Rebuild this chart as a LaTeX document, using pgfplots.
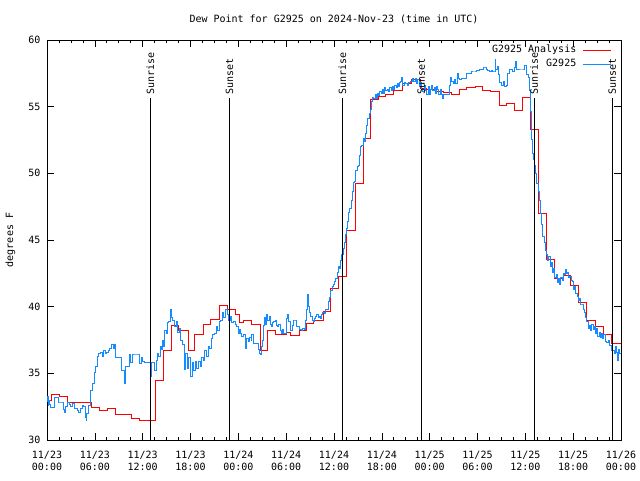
\documentclass[border=0pt]{standalone}
\usepackage{pgfplots}
\pgfplotsset{compat=1.18}
\usepackage{fontspec}
\setmainfont{DejaVu Sans Mono}
\definecolor{obsblue}{RGB}{20,140,255}
\begin{document}
\fontsize{10bp}{12bp}\selectfont
\begin{tikzpicture}
\begin{axis}[
  scale only axis, width=574bp, height=400bp,
  xmin=0, xmax=72, ymin=30, ymax=60,
  axis line style={line width=0.8bp},
  /pgf/number format/assume math mode=true,
  xtick={0,6,...,72},
  xticklabels={{11/23\\00:00},{11/23\\06:00},{11/23\\12:00},{11/23\\18:00},{11/24\\00:00},{11/24\\06:00},{11/24\\12:00},{11/24\\18:00},{11/25\\00:00},{11/25\\06:00},{11/25\\12:00},{11/25\\18:00},{11/26\\00:00}},
  minor x tick num=3,
  ytick={30,35,...,60},
  major tick length=7bp, minor tick length=3.5bp,
  tick style={black, line width=0.6bp},
  xticklabel style={align=center, yshift=-8bp, font=\fontsize{10bp}{12bp}\selectfont},
  yticklabel style={xshift=-3bp, font=\fontsize{10bp}{12bp}\selectfont},
  title={Dew Point for G2925 on 2024-Nov-23 (time in UTC)},
  title style={at={(axis description cs:0.5,1)}, anchor=base, yshift=11.5bp, font=\fontsize{10bp}{12bp}\selectfont},
  ylabel={degrees F},
  every axis y label/.style={at={(axis description cs:-0.059,0.5)}, rotate=90, anchor=base, font=\fontsize{10bp}{12bp}\selectfont},
  legend plot pos=right,
  legend cell align=right,
  legend style={at={(axis description cs:1,1)}, anchor=north east, xshift=-8bp, yshift=-2.5bp, draw=none, fill=none, inner sep=1bp, row sep=0pt, column sep=5bp, font=\fontsize{10bp}{12bp}\selectfont, nodes={inner sep=1.5bp, text height=7.5bp, text depth=3.5bp}},
  legend image code/.code={\draw[#1] (0bp,0bp) -- (28bp,0bp);},
]
\addplot[const plot, red, line width=1bp] coordinates {
(0,33.0) (0.55,33.43) (1.6,33.3) (2.6,32.8) (5.6,32.43) (6.6,32.18) (7.6,32.38) (8.6,31.93) (9.6,31.88) (10.6,31.58) (11.6,31.43) (12.6,31.5)
(13.55,34.43) (14.6,36.73) (15.64,38.58) (16.47,38.18) (17.73,36.73) (18.56,37.93) (19.6,38.63) (20.57,39.05) (21.58,40.1) (22.66,39.8) (23.7,39.45)
(24.1,38.85) (24.71,38.93) (25.59,38.63) (26.72,36.75) (27.64,38.18) (28.68,37.93) (30.06,38.05) (30.6,37.85) (31.61,38.18) (32.57,38.75) (33.49,39.0)
(34.66,39.63) (35.58,41.33) (36.57,42.25) (37.6,45.75) (38.67,49.25) (39.7,52.6) (40.64,55.55) (41.56,55.75) (42.4,55.88) (43.44,56.2) (44.6,56.7)
(45.66,57.0) (46.79,56.35) (47.63,56.3) (48.67,56.13) (49.71,56.05) (50.76,55.93) (51.72,56.3) (52.65,56.45) (53.69,56.5) (54.65,56.18) (55.57,56.1)
(56.7,55.1) (57.66,55.2) (58.7,54.68) (59.63,55.7) (60.65,53.25) (61.7,47.0) (62.68,43.55) (63.72,42.08) (64.77,42.33) (65.69,41.58) (66.65,40.3)
(67.61,39.0) (68.74,38.5) (69.79,37.88) (70.83,37.25) (72,37.25)
};
\addlegendentry{G2925 Analysis}
\addplot[const plot, obsblue, line width=1bp] coordinates {
(0.0,32.9) (0.1,33.3) (0.15,32.6) (0.25,32.95) (0.35,32.7) (0.45,32.45) (0.6,32.45) (0.75,32.45) (0.95,33.18) (1.15,33.18) (1.4,32.85) (1.6,32.85)
(1.85,32.85) (2.1,32.3) (2.2,32.1) (2.3,32.55) (2.6,32.8) (2.8,32.7) (3.0,32.5) (3.2,32.75) (3.4,32.4) (3.6,32.35) (3.8,32.2) (4.0,32.05) (4.2,32.35)
(4.4,32.6) (4.6,32.5) (4.8,31.7) (4.9,31.5) (5.0,32.0) (5.2,32.6) (5.4,33.0) (5.5,33.75) (5.7,34.25) (5.9,35.1) (6.1,35.5) (6.3,36.25) (6.5,36.5)
(6.7,36.6) (6.9,36.3) (7.1,36.7) (7.3,36.5) (7.5,36.6) (7.7,36.75) (7.9,36.9) (8.1,37.2) (8.3,36.9) (8.5,37.15) (8.6,36.2) (9.0,36.2) (9.4,35.25)
(9.7,34.25) (9.8,35.5) (10.0,35.5) (10.3,36.45) (10.5,35.8) (10.7,36.45) (11.0,36.45) (11.4,36.45) (11.55,35.75) (11.8,36.2) (12.0,35.9) (12.2,35.8)
(12.5,35.8) (12.9,35.8) (12.95,34.75) (13.1,35.8) (13.3,35.8) (13.45,35.2) (13.7,36.0) (13.9,36.5) (14.0,36.3) (14.2,37.0) (14.4,36.8) (14.5,37.5)
(14.6,37.0) (14.8,38.2) (15.0,38.0) (15.1,38.8) (15.3,38.9) (15.5,39.8) (15.6,39.2) (15.8,39.0) (16.0,38.5) (16.2,38.9) (16.4,38.1) (16.6,38.4)
(16.8,37.5) (17.0,37.2) (17.3,35.3) (17.4,36.5) (17.6,35.4) (17.8,36.2) (18.0,34.8) (18.2,35.8) (18.4,35.2) (18.6,35.9) (18.8,35.4) (19.0,35.9)
(19.2,35.5) (19.4,36.2) (19.6,36.0) (19.8,36.7) (20.0,36.3) (20.2,37.0) (20.4,36.9) (20.6,37.6) (20.8,37.9) (21.0,38.0) (21.2,38.5) (21.4,38.2)
(21.6,38.9) (21.8,39.0) (22.0,39.6) (22.2,39.2) (22.4,39.8) (22.6,39.4) (22.8,39.0) (23.0,39.3) (23.2,38.8) (23.4,38.9) (23.6,38.7) (23.8,38.5)
(24.0,38.0) (24.2,38.3) (24.3,38.0) (24.45,37.8) (24.65,37.9) (24.85,37.3) (24.95,36.9) (25.05,37.6) (25.25,37.4) (25.4,37.7) (25.6,37.5) (25.7,37.9)
(25.85,37.25) (26.2,37.25) (26.5,36.8) (26.65,36.5) (26.8,36.4) (26.95,37.0) (27.05,37.5) (27.15,38.6) (27.3,39.2) (27.45,38.7) (27.55,39.4) (27.7,39.0)
(27.85,39.3) (28.0,38.7) (28.15,38.5) (28.3,38.8) (28.45,38.9) (28.6,39.0) (28.8,38.6) (28.95,38.5) (29.1,38.7) (29.25,38.2) (29.4,38.0) (29.55,38.3)
(29.7,38.0) (29.9,38.0) (30.05,39.1) (30.2,39.4) (30.35,38.9) (30.5,38.5) (30.6,38.2) (30.75,38.6) (30.9,39.0) (31.05,39.0) (31.3,38.5) (31.5,38.5)
(31.7,38.3) (31.9,38.2) (32.1,38.4) (32.3,38.3) (32.45,39.0) (32.6,39.8) (32.7,40.9) (32.8,40.0) (32.95,39.6) (33.1,39.25) (33.25,39.0) (33.4,38.9)
(33.55,39.1) (33.7,39.3) (33.85,39.4) (34.0,39.2) (34.15,39.3) (34.3,39.1) (34.45,39.4) (34.6,39.6) (34.75,39.5) (34.9,39.8) (35.1,39.8) (35.3,40.4)
(35.45,40.7) (35.6,41.2) (35.8,41.5) (35.95,41.7) (36.1,41.9) (36.25,42.1) (36.4,42.6) (36.55,43.0) (36.7,42.9) (36.85,43.5) (37.0,43.9) (37.15,44.4)
(37.3,44.8) (37.4,45.4) (37.55,45.9) (37.7,46.4) (37.85,47.1) (38.0,47.4) (38.15,48.0) (38.3,48.6) (38.45,49.3) (38.6,49.4) (38.75,50.2) (38.9,50.5)
(39.05,50.6) (39.2,51.3) (39.35,52.0) (39.5,52.1) (39.65,52.6) (39.8,52.4) (39.95,53.0) (40.1,53.6) (40.25,54.1) (40.4,54.5) (40.55,54.8) (40.7,55.4)
(40.85,55.7) (41.0,55.6) (41.15,55.9) (41.3,55.6) (41.45,56.0) (41.6,55.8) (41.75,56.1) (41.9,56.0) (42.05,56.3) (42.2,56.0) (42.35,56.4) (42.5,56.2)
(42.65,56.3) (42.8,56.1) (43.0,56.4) (43.15,56.2) (43.3,56.5) (43.45,56.3) (43.6,56.6) (43.8,56.4) (43.95,56.7) (44.1,56.5) (44.25,56.8) (44.4,56.9)
(44.5,57.2) (44.65,56.6) (44.8,56.8) (45.0,56.7) (45.2,56.6) (45.4,56.8) (45.6,56.9) (45.8,57.1) (46.0,56.9) (46.2,57.1) (46.35,56.7) (46.5,57.0)
(46.7,56.6) (46.85,56.8) (47.0,56.3) (47.15,56.1) (47.3,56.6) (47.45,56.2) (47.6,55.9) (47.8,56.5) (47.95,55.9) (48.1,56.3) (48.25,56.6) (48.4,56.2)
(48.55,56.4) (48.7,56.0) (48.85,56.5) (49.0,56.3) (49.15,55.9) (49.3,56.3) (49.45,55.9) (49.6,55.6) (49.75,55.9) (49.9,55.9) (50.1,55.9) (50.3,55.9)
(50.5,56.6) (50.6,57.2) (50.75,56.9) (50.95,56.7) (51.1,57.0) (51.25,56.7) (51.45,57.5) (51.6,57.1) (51.8,57.0) (52.0,57.1) (52.2,57.1) (52.45,57.1)
(52.65,57.5) (52.85,57.5) (53.05,57.5) (53.3,57.6) (53.5,57.6) (53.7,57.6) (53.9,57.7) (54.1,57.7) (54.3,57.8) (54.5,57.8) (54.7,57.9) (54.9,57.9)
(55.1,57.8) (55.3,57.7) (55.5,57.6) (55.7,57.7) (55.9,57.6) (56.1,57.6) (56.2,58.5) (56.3,57.8) (56.45,58.0) (56.6,57.4) (56.8,56.8) (57.0,56.6)
(57.2,56.9) (57.4,56.5) (57.6,56.6) (57.8,57.5) (58.0,57.75) (58.2,57.8) (58.4,57.6) (58.6,57.9) (58.75,58.4) (58.9,57.8) (59.1,57.75) (59.4,57.75)
(59.7,57.75) (59.95,58.1) (60.15,57.4) (60.35,57.2) (60.5,56.2) (60.6,55.5) (60.7,54.6) (60.8,52.5) (60.9,51.5) (61.0,51.0) (61.15,50.6) (61.3,50.0)
(61.45,49.2) (61.6,48.6) (61.75,48.0) (61.9,47.0) (62.05,46.2) (62.2,45.3) (62.35,44.8) (62.5,44.2) (62.65,43.9) (62.8,43.5) (62.95,43.8) (63.1,43.0)
(63.25,43.3) (63.4,42.6) (63.55,42.9) (63.7,42.2) (63.85,42.4) (64.0,41.8) (64.15,42.1) (64.3,41.7) (64.45,42.2) (64.6,42.0) (64.75,42.5) (64.9,42.4)
(65.0,42.8) (65.15,42.5) (65.3,42.6) (65.45,42.2) (65.6,42.3) (65.75,42.0) (65.9,41.9) (66.05,41.3) (66.2,41.5) (66.35,41.0) (66.5,40.8) (66.65,40.5)
(66.8,40.6) (66.95,40.2) (67.1,40.2) (67.25,39.8) (67.4,39.6) (67.55,39.2) (67.7,38.9) (67.9,38.4) (68.05,38.6) (68.2,38.2) (68.35,38.7) (68.5,38.3)
(68.65,38.5) (68.8,38.0) (68.95,38.4) (69.1,37.8) (69.25,38.1) (69.4,37.7) (69.55,38.0) (69.7,37.6) (69.85,37.9) (70.0,37.4) (70.2,37.3) (70.4,37.5)
(70.6,37.1) (70.8,36.7) (71.0,36.7) (71.2,36.5) (71.35,37.0) (71.45,36.6) (71.6,36.0) (71.7,36.8) (71.85,36.5) (72.0,36.6)
};
\addlegendentry{G2925}
\addplot[black, line width=0.8bp, forget plot] coordinates {(12.97,30) (12.97,55.65)};
\addplot[black, line width=0.8bp, forget plot] coordinates {(22.88,30) (22.88,55.65)};
\addplot[black, line width=0.8bp, forget plot] coordinates {(37.04,30) (37.04,55.65)};
\addplot[black, line width=0.8bp, forget plot] coordinates {(46.95,30) (46.95,55.65)};
\addplot[black, line width=0.8bp, forget plot] coordinates {(61.12,30) (61.12,55.65)};
\addplot[black, line width=0.8bp, forget plot] coordinates {(70.91,30) (70.91,55.65)};
\node[rotate=90, anchor=west, font=\fontsize{10bp}{12bp}\selectfont] at (axis cs:12.97,55.65) {Sunrise};
\node[rotate=90, anchor=west, font=\fontsize{10bp}{12bp}\selectfont] at (axis cs:22.88,55.65) {Sunset};
\node[rotate=90, anchor=west, font=\fontsize{10bp}{12bp}\selectfont] at (axis cs:37.04,55.65) {Sunrise};
\node[rotate=90, anchor=west, font=\fontsize{10bp}{12bp}\selectfont] at (axis cs:46.95,55.65) {Sunset};
\node[rotate=90, anchor=west, font=\fontsize{10bp}{12bp}\selectfont] at (axis cs:61.12,55.65) {Sunrise};
\node[rotate=90, anchor=west, font=\fontsize{10bp}{12bp}\selectfont] at (axis cs:70.91,55.65) {Sunset};
\end{axis}
\path (current axis.south west) ++(-47bp,-40bp) coordinate (bbA);
\path (current axis.north east) ++(19bp,40bp) coordinate (bbB);
\pgfresetboundingbox
\path[use as bounding box] (bbA) rectangle (bbB);
\end{tikzpicture}
\end{document}
